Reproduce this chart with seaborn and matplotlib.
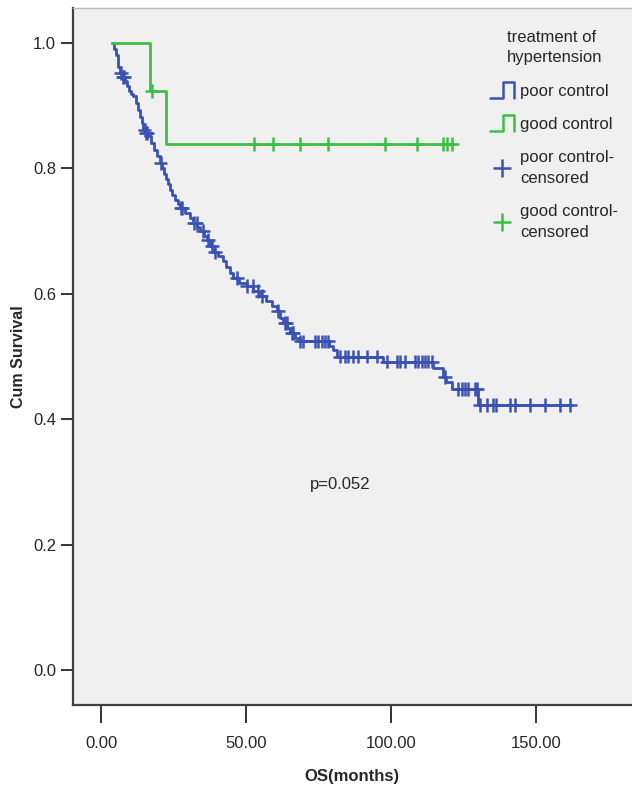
import numpy as np
import pandas as pd
import matplotlib
matplotlib.use("Agg")
from matplotlib import pyplot as plt
from matplotlib.lines import Line2D
from matplotlib.legend_handler import HandlerLine2D
import seaborn as sns

# Kaplan-Meier step data (months, cum survival after step)
poor_time = [3.7, 4.5, 5.2, 6.0, 6.5, 7.4, 8.3, 9.0, 9.8, 10.5, 11.1, 11.9, 12.6, 13.3, 14.0,
             14.6, 15.5, 16.3, 17.3, 18.2, 19.2, 20.3, 21.0, 21.8, 22.5, 23.2, 23.8, 24.6, 25.5,
             26.4, 27.2, 28.8, 30.6, 31.8, 33.0, 34.2, 35.4, 36.4, 37.6, 38.7, 40.3, 42.1, 43.2,
             44.5, 45.6, 47.5, 50.2, 52.5, 54.8, 57.0, 58.8, 60.5, 61.6, 62.8, 64.0, 65.0, 66.8,
             68.5, 78.5, 80.0, 81.3, 97.0, 114.3, 117.9, 119.0, 120.8, 129.9, 162.1]
poor_surv = [1.0, 0.990, 0.981, 0.962, 0.952, 0.946, 0.939, 0.931, 0.923, 0.919, 0.915, 0.904,
             0.893, 0.882, 0.872, 0.862, 0.856, 0.851, 0.840, 0.830, 0.820, 0.809, 0.800, 0.791,
             0.783, 0.775, 0.766, 0.758, 0.750, 0.743, 0.737, 0.729, 0.721, 0.713, 0.706, 0.700,
             0.693, 0.686, 0.676, 0.667, 0.660, 0.652, 0.643, 0.634, 0.625, 0.618, 0.612, 0.604,
             0.596, 0.588, 0.580, 0.572, 0.562, 0.553, 0.545, 0.537, 0.530, 0.524, 0.517, 0.510,
             0.500, 0.492, 0.481, 0.468, 0.460, 0.448, 0.423, 0.423]
poor_censor = [7.0, 7.6, 8.0, 15.0, 15.6, 16.0, 20.5, 27.5, 27.8, 31.9, 32.9, 35.2, 36.9, 38.1,
               39.3, 46.7, 50.4, 52.4, 54.2, 55.3, 61.0, 63.4, 63.9, 65.7, 66.2, 68.7, 69.7,
               73.7, 74.8, 76.0, 77.1, 78.3, 82.3, 84.0, 85.2, 86.9, 88.6, 91.5, 94.9, 98.4,
               101.8, 103.0, 104.7, 108.1, 109.3, 110.4, 111.6, 112.7, 113.9, 118.5, 123.0,
               124.2, 125.3, 126.4, 128.8, 129.4, 130.5, 132.8, 135.1, 136.2, 140.8, 142.6,
               147.7, 152.9, 158.1, 161.5]

good_time = [3.7, 17.0, 22.4, 121.5]
good_surv = [1.0, 0.924, 0.839, 0.839]
good_censor = [17.6, 52.8, 59.1, 68.5, 78.2, 97.8, 108.8, 117.8, 119.1, 121.0]

groups = ["poor control", "good control"]
colors = {"poor control": "#3a52b4", "good control": "#3dbf45"}
x_ticks = [0, 50, 100, 150]
y_ticks = [0.0, 0.2, 0.4, 0.6, 0.8, 1.0]
p_text = "p=0.052"


def surv_at(times, survs, t):
    idx = np.searchsorted(times, t, side="right") - 1
    return np.asarray(survs)[idx]


curves = pd.concat([
    pd.DataFrame({"time": poor_time, "surv": poor_surv, "group": "poor control"}),
    pd.DataFrame({"time": good_time, "surv": good_surv, "group": "good control"}),
])
censors = pd.concat([
    pd.DataFrame({"time": poor_censor, "surv": surv_at(poor_time, poor_surv, poor_censor),
                  "group": "poor control"}),
    pd.DataFrame({"time": good_censor, "surv": surv_at(good_time, good_surv, good_censor),
                  "group": "good control"}),
])


class StepHandler(HandlerLine2D):
    # legend icon shaped like a survival step
    def create_artists(self, legend, orig_handle, xdescent, ydescent, width, height, fontsize, trans):
        x0, x1 = -xdescent, -xdescent + width
        y0, y1 = -ydescent - 0.2 * height, -ydescent + 1.2 * height
        xm = x0 + 0.55 * width
        line = Line2D([x0, xm, xm, x1, x1], [y0, y0, y1, y1, y0],
                      color=orig_handle.get_color(), lw=orig_handle.get_linewidth())
        line.set_transform(trans)
        return [line]


sns.set_style("ticks")
plt.rcParams["font.family"] = ["Liberation Sans Narrow", "Liberation Sans", "DejaVu Sans"]

fig = plt.figure(figsize=(6.32, 7.95), dpi=100)
ax = fig.add_axes([72.7 / 632, 90 / 795, 1 - 72.7 / 632, 697 / 795])
ax.set_facecolor("#f0f0f0")

sns.lineplot(data=curves, x="time", y="surv", hue="group", palette=colors, estimator=None,
             drawstyle="steps-post", linewidth=2.0, legend=False, ax=ax)
sns.scatterplot(data=censors, x="time", y="surv", hue="group", palette=colors, marker="+",
                s=100, linewidth=1.8, legend=False, ax=ax, zorder=3)

ax.set_xlim(-9.75, 182.9)
ax.set_ylim(-0.056, 1.056)
ax.set_xticks(x_ticks)
ax.set_xticklabels([f"{v:.2f}" for v in x_ticks])
ax.set_yticks(y_ticks)
ax.set_yticklabels([f"{v:.1f}" for v in y_ticks])
ax.tick_params(axis="x", length=13, width=1.4, labelsize=12, pad=9, color="#333333")
ax.tick_params(axis="y", length=9, width=1.4, labelsize=12, pad=3, color="#333333")

ax.set_xlabel("OS(months)", fontsize=12, fontweight="bold", labelpad=13)
ax.set_ylabel("Cum Survival", fontsize=11.5, fontweight="bold", labelpad=5)

for side in ["left", "bottom"]:
    ax.spines[side].set_color("#404040")
    ax.spines[side].set_linewidth(1.6)
ax.spines["top"].set_color("#bbbbbb")
ax.spines["top"].set_linewidth(1.0)
ax.spines["right"].set_visible(False)

ax.text(72, 0.295, p_text, fontsize=12, ha="left", va="center")

handles = [Line2D([], [], color=colors["poor control"], lw=1.8),
           Line2D([], [], color=colors["good control"], lw=1.8),
           Line2D([], [], color=colors["poor control"], marker="+", ls="", ms=13, mew=1.8),
           Line2D([], [], color=colors["good control"], marker="+", ls="", ms=13, mew=1.8)]
labels = ["poor control", "good control", "poor control-\ncensored", "good control-\ncensored"]
leg = ax.legend(handles, labels, title="treatment of\nhypertension", loc="upper left",
                bbox_to_anchor=(0.72, 0.99), frameon=False, fontsize=12, title_fontsize=12,
                labelspacing=1.1, handlelength=1.4, handletextpad=0.4,
                handler_map={handles[0]: StepHandler(), handles[1]: StepHandler()})
for t in leg.get_texts():
    t.set_linespacing(1.45)
leg.get_title().set_linespacing(1.45)

fig.savefig("out.png", dpi=100, facecolor="white")
